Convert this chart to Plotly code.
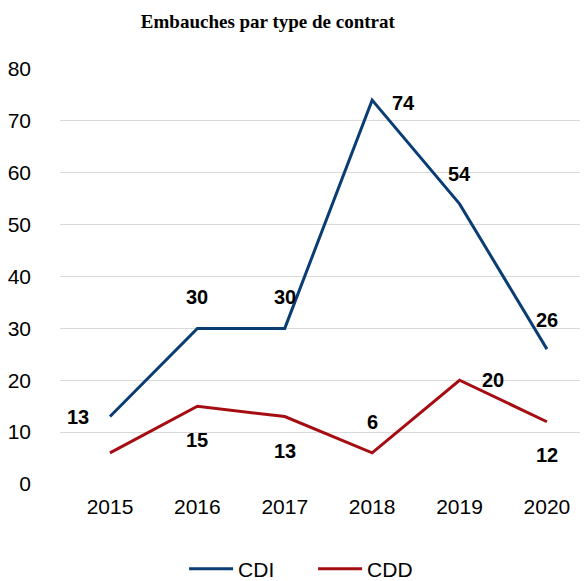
import plotly.graph_objects as go

years = ["2015", "2016", "2017", "2018", "2019", "2020"]
cdi = [13, 30, 30, 74, 54, 26]
cdd = [6, 15, 13, 6, 20, 12]
y_ticks = [0, 10, 20, 30, 40, 50, 60, 70, 80]

# label placement (dx, dy in px) per point; None = no label
cdi_lab = [(-32, 0), (0, 31), (0, 31), (31, -3), (0, 30), (0, 29)]
cdd_lab = [None, (0, -34), (0, -34), (0, 31), (33, 0), (0, -33)]

FONT = "Liberation Sans, Arial"

fig = go.Figure()
xs = list(range(len(years)))
fig.add_trace(go.Scatter(x=xs, y=cdi, mode="lines", name="CDI",
                         line=dict(color="#0a3d73", width=3)))
fig.add_trace(go.Scatter(x=xs, y=cdd, mode="lines", name="CDD",
                         line=dict(color="#a50d12", width=3)))

for vals, labs in ((cdi, cdi_lab), (cdd, cdd_lab)):
    for i, (v, lab) in enumerate(zip(vals, labs)):
        if lab is None:
            continue
        fig.add_annotation(x=xs[i], y=v, text="<b>%d</b>" % v, showarrow=False,
                           xshift=lab[0], yshift=lab[1],
                           font=dict(family=FONT, size=20, color="#000"),
                           xanchor="center", yanchor="middle")

fig.update_layout(
    width=580, height=573,
    margin=dict(l=52, r=0, t=61, b=97, autoexpand=False),
    paper_bgcolor="white", plot_bgcolor="white",
    title=dict(text="<b>Embauches par type de contrat</b>", x=0.448, xanchor="center",
               y=0.976, yanchor="middle",
               font=dict(family="Liberation Serif, Times New Roman", size=19, color="#000")),
    xaxis=dict(range=[-0.572, 5.47], tickvals=xs, ticktext=years, showgrid=False,
               zeroline=False, showline=False, ticks="", automargin=False,
               ticklabelstandoff=8,
               tickfont=dict(family=FONT, size=21, color="#000")),
    yaxis=dict(range=[0, 80], tickvals=y_ticks, showgrid=True, gridcolor="#d9d9d9",
               gridwidth=1, zeroline=False, showline=False, ticks="", ticklabelstandoff=28,
               automargin=False,
               tickfont=dict(family=FONT, size=21, color="#000")),
    legend=dict(orientation="h", x=0.235, xanchor="left", y=-0.205, yanchor="middle",
                entrywidth=70, entrywidthmode="pixels", itemwidth=44,
                font=dict(family=FONT, size=21, color="#000")),
    showlegend=True,
)
fig.write_html("out.html")
